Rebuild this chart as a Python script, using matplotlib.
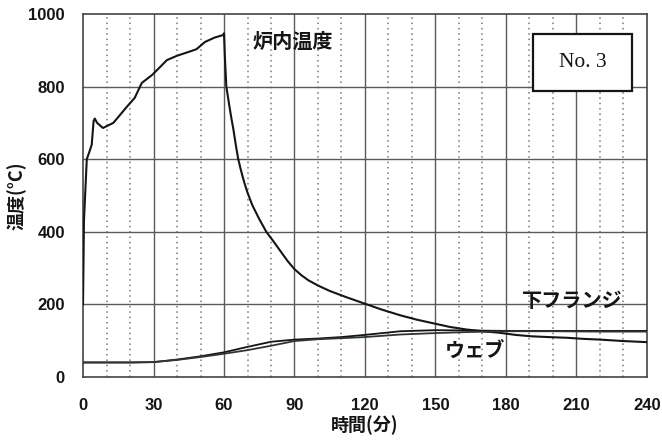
import matplotlib
matplotlib.use("Agg")
import matplotlib.pyplot as plt
from matplotlib.patches import Rectangle
import numpy as np

plt.rcParams['font.family'] = ['Noto Sans CJK JP', 'DejaVu Sans']

# 炉内温度 (furnace)
furnace_t = [0, 0.4, 1.6, 2.8, 3.7, 4.5, 5, 6, 8.5, 12.9, 15.5, 18.6, 22, 25,
             29.4, 32.5, 35.7, 40, 44.7, 48.3, 51.9, 56, 59.6, 60, 60.4, 61, 62,
             63, 64, 65, 66, 67, 68, 69, 70, 72, 75, 78, 81, 84, 87, 90, 93,
             96, 100, 105, 112, 119, 127, 135, 142, 149, 156, 163, 170, 177, 184,
             191, 198, 206, 213, 220, 230, 240]
furnace_v = [200, 430, 600, 622, 640, 705, 712, 700, 686, 700, 720, 744, 769, 810,
             832, 852, 873, 885, 895, 903, 923, 935, 942, 947, 877, 800, 758,
             718, 682, 640, 602, 575, 550, 528, 508, 474, 435, 400, 374, 347, 320,
             297, 280, 266, 252, 237, 220, 204, 186, 170, 158, 148, 138, 131, 126,
             122, 116, 112, 110, 108, 105, 103, 99, 96]

# 下フランジ / ウェブ
steel_t = [0, 10, 20, 30, 40, 50, 60, 70, 80, 90, 100, 110, 120, 135, 150, 165,
           180, 200, 220, 240]
flange_v = [40, 40, 40, 41, 48, 57, 68, 83, 97, 103, 106, 110, 116, 126, 129, 128,
            127, 127, 127, 127]
web_v = [40, 40, 40, 41, 47, 55, 64, 74, 86, 99, 104, 107, 110, 117, 121, 124,
         126, 126, 125, 125]

x_ticks = [0, 30, 60, 90, 120, 150, 180, 210, 240]
y_ticks = [0, 200, 400, 600, 800, 1000]

INK = "#151515"
GRID = "#5a5a5a"

fig = plt.figure(figsize=(6.62, 4.40), dpi=100)
fig.patch.set_facecolor("white")
ax = fig.add_axes([0.1254, 0.1432, 0.8519, 0.8250])

ax.set_xlim(0, 240)
ax.set_ylim(0, 1000)

# grid: solid every 30 min / 200 deg, dotted every 10 min
for t in range(10, 240, 10):
    if t % 30:
        ax.axvline(t, color="#777777", lw=1.1, ls=(0, (1, 2.5)), zorder=1)
for t in x_ticks[1:-1]:
    ax.axvline(t, color=GRID, lw=1.0, zorder=1)
for v in y_ticks[1:-1]:
    ax.axhline(v, color=GRID, lw=1.0, zorder=1)

ax.plot(furnace_t, furnace_v, color=INK, lw=1.5, zorder=3)
ax.plot(steel_t, flange_v, color=INK, lw=1.3, zorder=3)
ax.plot(steel_t, web_v, color="#2a3a2a", lw=1.3, zorder=3)

ax.set_xticks(x_ticks)
ax.set_yticks(y_ticks)
ax.tick_params(length=0)
ax.tick_params(axis="y", pad=13)
ax.tick_params(axis="x", pad=15)
for lab in ax.get_xticklabels() + ax.get_yticklabels():
    lab.set_family("Liberation Sans")
    lab.set_fontweight("bold")
    lab.set_fontsize(12)
    lab.set_color(INK)

for s in ax.spines.values():
    s.set_color("#444444")
    s.set_linewidth(1.2)

ax.set_xlabel("時間(分)", fontsize=13, fontweight="bold", color=INK, labelpad=2)
ax.set_ylabel("温度(°C)", fontsize=13, fontweight="bold", color=INK, labelpad=1)

ax.text(72, 926, "炉内温度", fontsize=14.5, fontweight="bold", color=INK,
        ha="left", va="center", zorder=4)
ax.text(187, 210, "下フランジ", fontsize=14.5, fontweight="bold", color=INK,
        ha="left", va="center", zorder=4)
ax.text(154, 71, "ウェブ", fontsize=14.5, fontweight="bold", color=INK,
        ha="left", va="center", zorder=4)

ax.add_patch(Rectangle((191.5, 789), 42, 156, facecolor="white",
                       edgecolor=INK, lw=1.6, zorder=5))
ax.text(212.5, 867, "No. 3", family="Liberation Serif", fontsize=15.5,
        color=INK, ha="center", va="center", zorder=6)

fig.savefig("out.png", dpi=100, facecolor="white")
